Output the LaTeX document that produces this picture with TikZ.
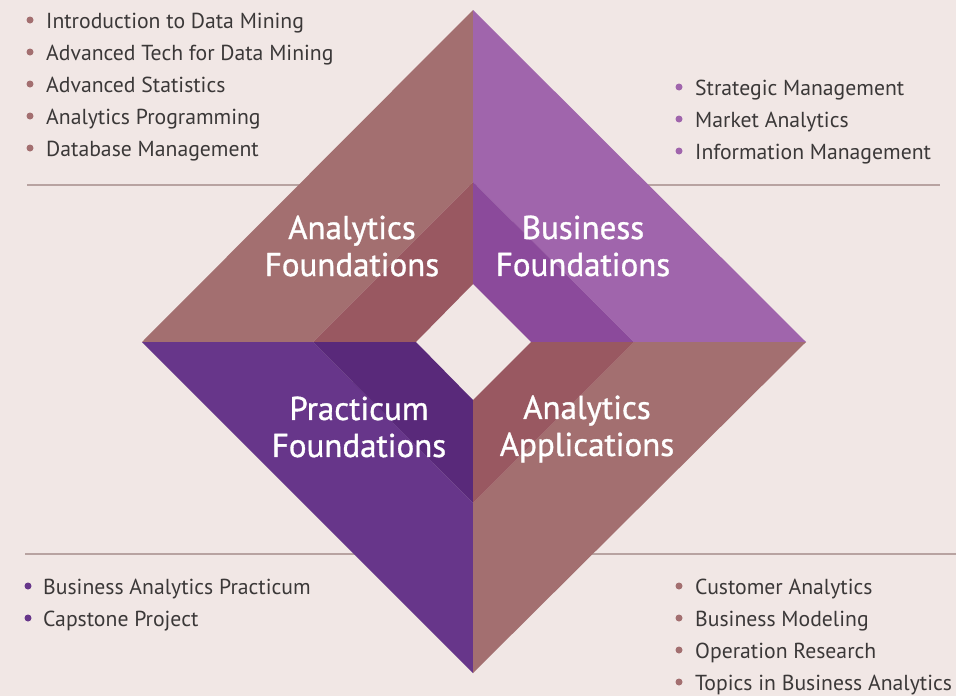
\documentclass[tikz,border=0pt]{standalone}
\usepackage{fontspec}
\setmainfont{PT Sans}
\newfontfamily\titlefont[FakeBold=1]{PT Sans}
\usepackage{xcolor}
\usepackage{tikz}
\usetikzlibrary{positioning,calc}
\definecolor{paper}{HTML}{F1E7E5}
\definecolor{mauve}{HTML}{A36F70}
\definecolor{mauvedark}{HTML}{995861}
\definecolor{violet}{HTML}{A065AC}
\definecolor{violetdark}{HTML}{8B4A9B}
\definecolor{plum}{HTML}{67368A}
\definecolor{plumdark}{HTML}{59297A}
\definecolor{rule}{HTML}{B8A3A1}
\definecolor{ink}{HTML}{3B3838}

\begin{document}
\begin{tikzpicture}[
    x=1pt,y=-1pt,
    title/.style={text=white,font=\titlefont\fontsize{33}{37}\selectfont,align=center,inner sep=0pt},
    item/.style={text=ink,font=\fontsize{21.7}{26}\selectfont,anchor=base west,inner sep=0pt},
    dot/.style={circle,inner sep=0pt,minimum size=7pt},
    sep/.style={draw=rule,line width=1.2pt}
  ]
  \fill[paper] (0,0) rectangle (956,696);
  \useasboundingbox (0,0) rectangle (956,696);

  % rules behind the diamond
  \draw[sep] (27,185) -- (940,185);
  \draw[sep] (25,554) -- (956,554);

  % outer, middle and inner corners of the diamond
  \coordinate (oT) at (473,10);  \coordinate (oL) at (142,342);
  \coordinate (oR) at (806,342); \coordinate (oB) at (473,673);
  \coordinate (mT) at (473,182); \coordinate (mL) at (313,342);
  \coordinate (mR) at (634,342); \coordinate (mB) at (473,503);
  \coordinate (hT) at (473,284); \coordinate (hL) at (416,342);
  \coordinate (hR) at (531,342); \coordinate (hB) at (473,400);

  % analytics foundations
  \fill[mauve] (oT) -- (mT) -- (mL) -- (oL) -- cycle;
  \fill[mauvedark] (mT) -- (hT) -- (hL) -- (mL) -- cycle;
  % business foundations
  \fill[violet] (oT) -- (oR) -- (mR) -- (mT) -- cycle;
  \fill[violetdark] (mT) -- (mR) -- (hR) -- (hT) -- cycle;
  % practicum foundations
  \fill[plum] (oL) -- (mL) -- (mB) -- (oB) -- cycle;
  \fill[plumdark] (mL) -- (hL) -- (hB) -- (mB) -- cycle;
  % analytics applications
  \fill[mauve] (oR) -- (oB) -- (mB) -- (mR) -- cycle;
  \fill[mauvedark] (mR) -- (mB) -- (hB) -- (hR) -- cycle;

  \node[title] (anfound) at (352,246) {Analytics\\Foundations};
  \node[title] (bufound) at (583,246) {Business\\Foundations};
  \node[title] (prfound) at (359,427) {Practicum\\Foundations};
  \node[title] (anapps) at (587,429) {Analytics\\Applications};

  % course lists
  \foreach \y/\t in {20/Introduction to Data Mining,52/Advanced Tech for Data Mining,
      84/Advanced Statistics,116/Analytics Programming,148/Database Management}{
    \node[dot,fill=mauve] at (30,\y) {};
    \node[item] at (46,\y+8) {\t};
  }
  \foreach \y/\t in {87/Strategic Management,119/Market Analytics,151/Information Management}{
    \node[dot,fill=violet] at (679,\y) {};
    \node[item] at (695,\y+8) {\t};
  }
  \foreach \y/\t in {586/Business Analytics Practicum,618/Capstone Project}{
    \node[dot,fill=plum] at (28,\y) {};
    \node[item] at (43,\y+8) {\t};
  }
  \foreach \y/\t in {586/Customer Analytics,618/Business Modeling,650/Operation Research,
      682/Topics in Business Analytics}{
    \node[dot,fill=mauve] at (679,\y) {};
    \node[item] at (695,\y+8) {\t};
  }
\end{tikzpicture}
\end{document}
